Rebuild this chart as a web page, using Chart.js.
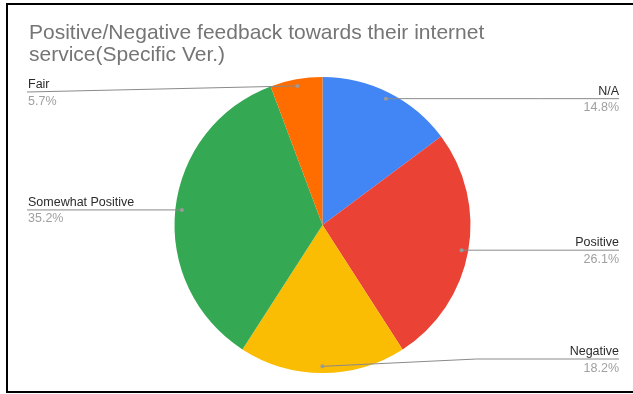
<!DOCTYPE html>
<html>
<head>
<meta charset="utf-8">
<script src="https://cdn.jsdelivr.net/npm/chart.js@4/dist/chart.umd.min.js"></script>
<style>
  html, body { margin: 0; padding: 0; background: #fff; }
  #wrap { position: relative; width: 633px; height: 394px; overflow: hidden; }
  #c { position: absolute; left: 0; top: 0; }
  #frame { position: absolute; left: 6px; top: 3px; width: 640px; height: 386px; border: 2.5px solid #000; box-sizing: content-box; pointer-events: none; }
</style>
</head>
<body>
<div id="wrap">
  <canvas id="c" width="633" height="394"></canvas>
  <div id="frame"></div>
</div>
<script>
const titleLines = ["Positive/Negative feedback towards their internet", "service(Specific Ver.)"];
const categories = ["N/A", "Positive", "Negative", "Somewhat Positive", "Fair"];
const values = [14.8, 26.1, 18.2, 35.2, 5.7];
const colors = ["#4285F4", "#EA4335", "#FBBC04", "#34A853", "#FF6D01"];

const FONT = '"Liberation Sans", Arial, sans-serif';

const leaderPlugin = {
  id: 'leaders',
  afterDatasetsDraw(chart) {
    const ctx = chart.ctx;
    const meta = chart.getDatasetMeta(0);
    const ca = chart.chartArea;
    const total = values.reduce((a, b) => a + b, 0);
    const leftX = 27, rightX = 619;
    ctx.save();
    meta.data.forEach((arc, i) => {
      const p = arc.getProps(['x', 'y', 'startAngle', 'endAngle', 'outerRadius'], true);
      const mid = (p.startAngle + p.endAngle) / 2;
      const r = p.outerRadius * 0.955;
      const dx = p.x + Math.cos(mid) * r;
      const dy = p.y + Math.sin(mid) * r;
      const right = i < 3;
      const endX = right ? rightX : leftX;
      const ly = Math.min(Math.max(dy, ca.top + 15), ca.bottom - 14);
      const bendX = right ? dx + Math.min(154, endX - dx) : endX;
      ctx.strokeStyle = '#8a8a8a';
      ctx.lineWidth = 1;
      ctx.beginPath();
      ctx.moveTo(dx, dy);
      ctx.lineTo(bendX, ly);
      ctx.lineTo(endX, ly);
      ctx.stroke();
      ctx.fillStyle = '#9a9a9a';
      ctx.beginPath();
      ctx.arc(dx, dy, 2, 0, Math.PI * 2);
      ctx.fill();
      ctx.textAlign = right ? 'right' : 'left';
      ctx.textBaseline = 'alphabetic';
      ctx.font = '12.5px ' + FONT;
      ctx.fillStyle = '#2b2b2b';
      ctx.fillText(categories[i], endX + (right ? 0 : 1), ly - 4);
      ctx.fillStyle = '#a0a0a0';
      ctx.fillText((values[i] / total * 100).toFixed(1) + '%', endX + (right ? 0 : 1), ly + 12.5);
    });
    ctx.restore();
  }
};

new Chart(document.getElementById('c'), {
  type: 'pie',
  data: {
    labels: categories,
    datasets: [{ data: values, backgroundColor: colors, borderWidth: 0 }]
  },
  options: {
    responsive: false,
    animation: false,
    layout: { padding: { left: 29, right: 17, top: 0, bottom: 21 } },
    plugins: {
      legend: { display: false },
      tooltip: { enabled: false },
      title: {
        display: true,
        text: titleLines,
        align: 'start',
        color: '#757575',
        font: { family: FONT, size: 21, weight: 'normal', lineHeight: '22px' },
        padding: { top: 22, bottom: 11 }
      }
    }
  },
  plugins: [leaderPlugin]
});
</script>
</body>
</html>
